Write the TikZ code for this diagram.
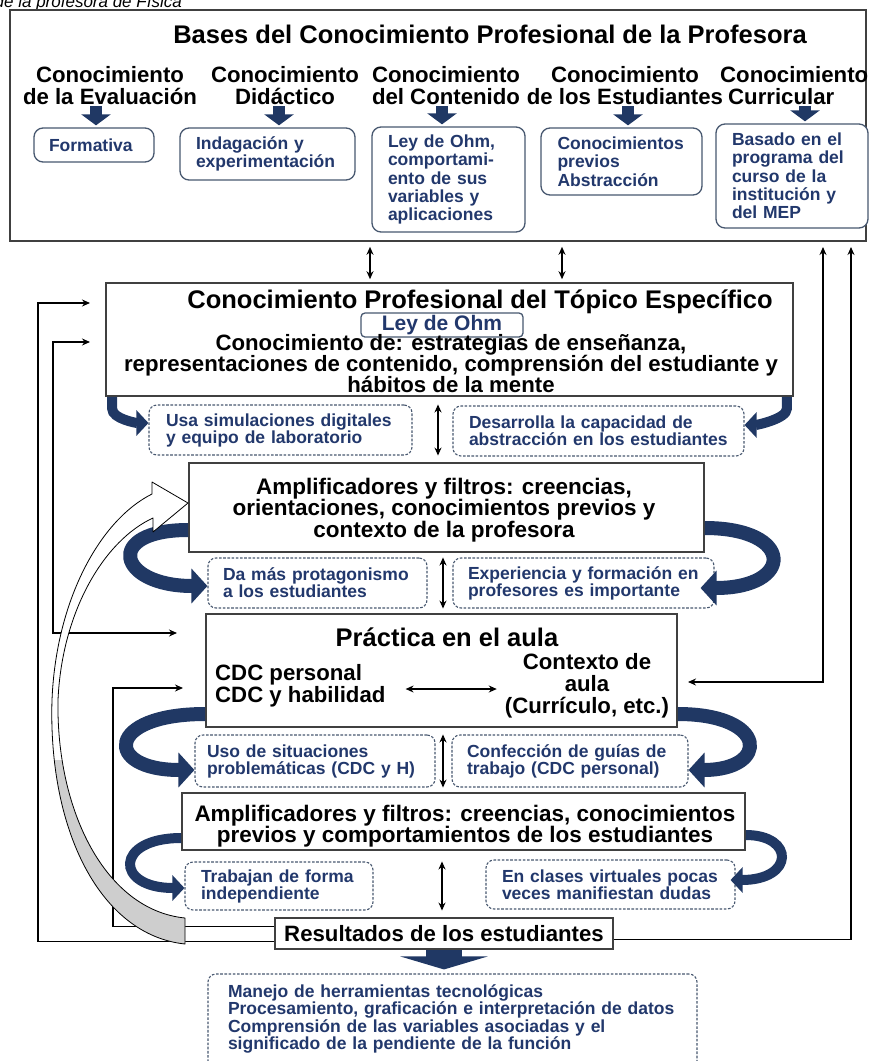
\documentclass[tikz,border=0pt]{standalone}
\usepackage{fontspec}
\setmainfont{Liberation Sans}
\usetikzlibrary{arrows.meta}

\definecolor{navy}{RGB}{32,56,100}
\definecolor{slate}{RGB}{72,88,112}
\definecolor{inkblue}{RGB}{34,56,108}
\definecolor{framegray}{RGB}{64,64,64}
\definecolor{backgray}{RGB}{206,206,206}

\tikzset{
  panel/.style={draw=framegray, line width=1.6pt, fill=white},
  hdr/.style={font=\fontsize{22.2}{22}\selectfont\bfseries, align=center, text=black, inner sep=0pt},
  bighdr/.style={font=\fontsize{25.5}{26}\selectfont\bfseries, text=black, inner sep=0pt},
  sbox/.style={draw=slate, line width=1.3pt, rounded corners=9pt, fill=white, text=inkblue,
    font=\fontsize{17.5}{18.3}\selectfont\bfseries, align=left, inner sep=0pt},
  dbox/.style={draw=slate, line width=1.1pt, dash pattern=on 2.6pt off 1.6pt, rounded corners=8pt,
    fill=white, text=inkblue, font=\fontsize{17.5}{17}\selectfont\bfseries, align=left, inner sep=0pt},
  wire/.style={draw=black, line width=1.3pt},
  blockarr/.style={draw=navy, line width=12pt, -{Triangle[length=11pt,width=29pt]}},
  swoosh/.style={draw=navy, line width=14pt, -{Triangle[length=16pt,width=34pt]}},
  smallswoosh/.style={draw=navy, line width=10pt, -{Triangle[length=12pt,width=25pt]}},
}

\begin{document}
\begin{tikzpicture}[x=1pt, y=-1pt, >={Stealth[length=8pt,width=7pt]}]
\useasboundingbox (0,0) rectangle (870,1061);

% caption line, mostly above the page edge
\node[font=\fontsize{17}{17}\selectfont\itshape, anchor=base east, inner sep=0pt] (caption) at (182,7) {CDC de la profesora de Física};

% ---------------- bases panel
\node[panel, minimum width=856pt, minimum height=231pt] (bases) at (438,125.5) {};
\node[bighdr, anchor=base] (title) at (490,43) {Bases del Conocimiento Profesional de la Profesora};
\node[hdr] (h1) at (110,86) {Conocimiento\\de la Evaluación};
\node[hdr] (h2) at (285,86) {Conocimiento\\Didáctico};
\node[hdr] (h3) at (446,86) {Conocimiento\\del Contenido};
\node[hdr] (h4) at (625,86) {Conocimiento\\de los Estudiantes};
\node[hdr, align=left, anchor=west] (h5) at (720,86) {Conocimiento\\\hspace*{8pt}Curricular};

\node[sbox, minimum width=120pt, minimum height=34pt, text width=90pt] (formativa) at (94,145) {Formativa};
\node[sbox, minimum width=175pt, minimum height=52pt, text width=143pt] (indag) at (267.5,154) {Indagación y\\experimentación};
\node[sbox, minimum width=153pt, minimum height=105pt, text width=121pt] (ley) at (448.5,179.5) {Ley de Ohm,\\comportami-\\ento de sus\\variables y\\aplicaciones};
\node[sbox, minimum width=161pt, minimum height=67pt, text width=128pt] (conoc) at (621.5,161.5) {Conocimientos\\previos\\Abstracción};
\node[sbox, minimum width=152pt, minimum height=104pt, text width=120pt] (basado) at (792,176) {Basado en el\\programa del\\curso de la\\institución y\\del MEP};

\coordinate (s1) at (96,106);
\coordinate (s2) at (279,106);
\coordinate (s3) at (442,106);
\coordinate (s4) at (628,106);
\coordinate (s5) at (805,106);
\draw[blockarr, shorten >=2pt] (s1) -- (s1 |- formativa.north);
\draw[blockarr, shorten >=2pt] (s2) -- (s2 |- indag.north);
\draw[blockarr, shorten >=2pt] (s3) -- (s3 |- ley.north);
\draw[blockarr, shorten >=2pt] (s4) -- (s4 |- conoc.north);
\draw[blockarr, shorten >=2pt] (s5) -- (s5 |- basado.north);

% ---------------- topic-specific knowledge
\node[panel, minimum width=687pt, minimum height=113pt] (cpte) at (449.5,339.5) {};
\node[bighdr] (cptetitle) at (480,302) {Conocimiento Profesional del Tópico Específico};
\node[draw=slate, line width=1.3pt, rounded corners=4pt, fill=white, text=inkblue,
      font=\fontsize{21}{21}\selectfont\bfseries, minimum width=162pt, minimum height=24pt, inner sep=0pt] (ohm) at (442,325) {Ley de Ohm};
\node[hdr, font=\fontsize{22.2}{21}\selectfont\bfseries] (cptebody) at (451,364) {Conocimiento de: estrategias de enseñanza,\\representaciones de contenido, comprensión del estudiante y\\hábitos de la mente};

\coordinate (v1) at (370,0);
\coordinate (v2) at (562,0);
\draw[wire, <->, shorten <=5pt, shorten >=3pt] (bases.south -| v1) -- (cpte.north -| v1);
\draw[wire, <->, shorten <=5pt, shorten >=3pt] (bases.south -| v2) -- (cpte.north -| v2);

\node[dbox, minimum width=263pt, minimum height=50pt, text width=229pt] (usa) at (280.5,430) {Usa simulaciones digitales\\y equipo de laboratorio};
\node[dbox, minimum width=291pt, minimum height=50pt, text width=259pt] (desa) at (598.5,431) {Desarrolla la capacidad de\\abstracción en los estudiantes};
\coordinate (v3) at (438,0);
\draw[wire, <->] (usa.north -| v3) -- (usa.south -| v3);

\draw[smallswoosh] ([xshift=7pt]cpte.south west) -- ++(0,12) .. controls +(0,10) and +(-12,0) .. ([yshift=7pt]usa.west);
\draw[smallswoosh] ([xshift=-7pt]cpte.south east) -- ++(0,12) .. controls +(0,10) and +(12,0) .. ([yshift=6pt]desa.east);

% ---------------- teacher amplifiers and filters
\node[panel, minimum width=515pt, minimum height=89pt] (ampl1) at (446.5,507.5) {};
\node[hdr, font=\fontsize{22.5}{21.5}\selectfont\bfseries] (ampl1text) at (444,510) {Amplificadores y filtros: creencias,\\orientaciones, conocimientos previos y\\contexto de la profesora};

\node[dbox, minimum width=219pt, minimum height=50pt, text width=189pt] (damas) at (317.5,583) {Da más protagonismo\\a los estudiantes};
\node[dbox, minimum width=261pt, minimum height=50pt, text width=231pt] (exper) at (583.5,583) {Experiencia y formación en\\profesores es importante};
\coordinate (v4) at (443,0);
\draw[wire, <->] (damas.north -| v4) -- (damas.south -| v4);

\draw[swoosh] ([yshift=-22.5pt]ampl1.west) .. controls +(-85,0) and +(-90,0) .. ([yshift=-3pt]damas.west);
\draw[swoosh] ([yshift=-20.5pt]ampl1.east) .. controls +(90,0) and +(94,0) .. ([xshift=-14pt,yshift=-5pt]exper.east);

% ---------------- classroom practice
\node[panel, minimum width=471pt, minimum height=113pt] (practica) at (441.5,670.5) {};
\node[bighdr] (practitle) at (447,637) {Práctica en el aula};
\node[hdr, align=left, anchor=west] (cdc) at (215,686) {CDC personal\\CDC y habilidad};
\node[hdr] (ctx) at (587,686) {Contexto de\\aula\\(Currículo, etc.)};
\draw[wire, <->, shorten <=20pt, shorten >=8pt] ([yshift=-3pt]cdc.east) -- ([yshift=-3pt]ctx.west);

\node[dbox, minimum width=240pt, minimum height=52pt, text width=216pt] (usosit) at (315,761) {Uso de situaciones\\problemáticas (CDC y H)};
\node[dbox, minimum width=236pt, minimum height=52pt, text width=206pt] (confec) at (570,761) {Confección de guías de\\trabajo (CDC personal)};
\coordinate (v5) at (443,0);
\draw[wire, <->] (usosit.north -| v5) -- (usosit.south -| v5);

\draw[swoosh] ([yshift=-43.5pt]practica.west) .. controls +(-100,0) and +(-91,0) .. ([yshift=-9pt]usosit.west);
\draw[swoosh] ([yshift=-43.5pt]practica.east) .. controls +(91,0) and +(81,0) .. ([yshift=-9pt]confec.east);

% ---------------- student amplifiers and filters
\node[panel, minimum width=563pt, minimum height=57pt] (ampl2) at (463.5,821.5) {};
\node[hdr, font=\fontsize{22.5}{21.5}\selectfont\bfseries] (ampl2text) at (465,826) {Amplificadores y filtros: creencias, conocimientos\\previos y comportamientos de los estudiantes};

\node[dbox, minimum width=188pt, minimum height=48pt, text width=156pt] (trabajan) at (279,886) {Trabajan de forma\\independiente};
\node[dbox, minimum width=249pt, minimum height=49pt, text width=217pt] (enclases) at (610.5,884.5) {En clases virtuales pocas\\veces manifiestan dudas};
\coordinate (v6) at (442,0);
\draw[wire, <->] (trabajan.north -| v6) -- (trabajan.south -| v6);

\draw[smallswoosh] ([yshift=-16.5pt]ampl2.west) .. controls +(-67,0) and +(-70,0) .. ([yshift=-2pt]trabajan.west);
\draw[smallswoosh] ([yshift=-13.5pt]ampl2.east) .. controls +(49,0) and +(64,0) .. ([xshift=-5pt,yshift=4.5pt]enclases.east);

% ---------------- student outcomes
\node[panel, hdr, minimum width=338pt, minimum height=31pt] (res) at (444,933.5) {Resultados de los estudiantes};
\node[dbox, minimum width=489pt, minimum height=100pt] (outcomes) at (452.5,1024) {};
\node[text=inkblue, font=\fontsize{17.5}{16.4}\selectfont\bfseries, align=left, text width=449pt, inner sep=0pt] (outcomestext) at (452.5,1019) {Manejo de herramientas tecnológicas\\Procesamiento, graficación e interpretación de datos\\Comprensión de las variables asociadas y el\\significado de la pendiente de la función};
\draw[draw=navy, line width=36pt, -{Triangle[length=13pt,width=87pt]}, shorten >=4pt] (res.south) -- (res.south |- outcomes.north);

% ---------------- feedback lines
\coordinate (wA) at (38,303);
\coordinate (tA) at (90,303);
\draw[wire, ->] ([yshift=-8pt]res.west) -| (wA) -- (tA);

\coordinate (tB) at (90,342);
\coordinate (wB1) at (53,342);
\coordinate (wB2) at (53,633);
\coordinate (tC) at (177,633);
\draw[wire, <->] (tB) -- (wB1) -- (wB2) -- (tC);

\coordinate (wD) at (113,688);
\coordinate (tD) at (183,688);
\draw[wire, ->] ([yshift=7pt]res.west) -| (wD) -- (tD);

\coordinate (tE) at (688,682);
\coordinate (wE) at (823,682);
\coordinate (tF) at (823,247);
\draw[wire, <->] (tE) -- (wE) -- (tF);

\coordinate (tG) at (851,247);
\draw[wire, ->] ([yshift=-6pt]res.east) -| (tG);

% ---------------- curved return arrow
\def\bandpath{(185,944) .. controls (100,935) and (48,830) .. (52,700)
  .. controls (56,600) and (100,520) .. (152,494) -- (152,482) -- (188,503) -- (153,532) -- (153,518)
  .. controls (105,540) and (62,610) .. (58,700) .. controls (56,810) and (105,910) .. (185,918) -- cycle}
\fill[white] \bandpath;
\begin{scope}
  \clip (0,760) rectangle (200,960);
  \fill[backgray] \bandpath;
\end{scope}
\draw[black, line width=0.8pt, line join=round] \bandpath;

\end{tikzpicture}
\end{document}
